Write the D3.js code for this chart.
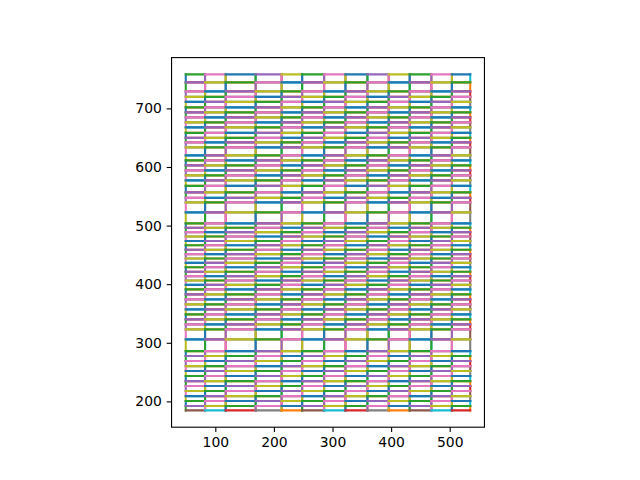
<!DOCTYPE html>
<html><head><meta charset="utf-8">
<script src="https://cdn.jsdelivr.net/npm/d3@7"></script>
<style>body{margin:0;background:#fff}svg{display:block}</style>
</head><body>
<script>
// Column boundaries (x, PDF points)
const colEdges = [49.6, 82.5, 117.7, 168.8, 213.1, 248.2, 285.7, 322.1, 359.6, 395.9, 431.7, 468.7, 503.7, 535];
// Row boundaries (y, PDF points), top to bottom
const rowEdges = [758, 744.4, 729, 719.6, 711.1, 701.7, 693.2, 684.6, 676.1, 667.6, 658.2, 649.7, 642, 633.4,
  619.8, 611.3, 602.7, 594.2, 585.7, 577.1, 567.7, 556.7, 547.3, 539.6, 522.5, 503.8, 496.3, 488.8, 481.3,
  473.8, 466.3, 458.8, 451.3, 443.8, 436.3, 428.8, 421.3, 413.8, 406.3, 398.8, 391.1, 382.6, 374.1, 365.5,
  357, 348.5, 339.9, 331.4, 322.9, 305.8, 285.8, 277.3, 268.8, 260.2, 251.7, 243.2, 234.6, 226.1, 217.6,
  209, 200.5, 192, 184.6];
const xTicks = [100, 200, 300, 400, 500];
const yTicks = [200, 300, 400, 500, 600, 700];
const palette = ["#1f77b4","#ff7f0e","#2ca02c","#d62728","#9467bd","#8c564b","#e377c2","#7f7f7f","#bcbd22","#17becf"];

const W = 640, H = 480;
const axL = 80, axW = 496, axT = 57.6, axH = 369.6;
const xmin0 = d3.min(colEdges), xmax0 = d3.max(colEdges);
const ymin0 = d3.min(rowEdges), ymax0 = d3.max(rowEdges);
const mx = (xmax0 - xmin0) * 0.05, my = (ymax0 - ymin0) * 0.05;
const xd = [xmin0 - mx, xmax0 + mx], yd = [ymin0 - my, ymax0 + my];
const k = Math.min(axW / (xd[1] - xd[0]), axH / (yd[1] - yd[0]));
const bw = (xd[1] - xd[0]) * k, bh = (yd[1] - yd[0]) * k;
const bx = axL + (axW - bw) / 2, by = axT + (axH - bh) / 2;

const x = d3.scaleLinear().domain(xd).range([bx, bx + bw]);
const y = d3.scaleLinear().domain(yd).range([by + bh, by]);

const svg = d3.select("body").append("svg").attr("width", W).attr("height", H);

// build segments in camelot plot_grid order
const segs = [];
let ci = 0;
for (let r = 0; r < rowEdges.length - 1; r++) {
  const yt = rowEdges[r], yb = rowEdges[r + 1];
  for (let c = 0; c < colEdges.length - 1; c++) {
    const xl = colEdges[c], xr = colEdges[c + 1];
    segs.push({x1: xl, y1: yb, x2: xl, y2: yt, col: palette[ci++ % 10]});
    segs.push({x1: xr, y1: yb, x2: xr, y2: yt, col: palette[ci++ % 10]});
    segs.push({x1: xl, y1: yt, x2: xr, y2: yt, col: palette[ci++ % 10]});
    segs.push({x1: xl, y1: yb, x2: xr, y2: yb, col: palette[ci++ % 10]});
  }
}
const clipId = "axclip";
svg.append("clipPath").attr("id", clipId).append("rect")
  .attr("x", bx).attr("y", by).attr("width", bw).attr("height", bh);
svg.append("g").attr("clip-path", `url(#${clipId})`)
  .selectAll("line").data(segs).join("line")
  .attr("x1", d => x(d.x1)).attr("y1", d => y(d.y1))
  .attr("x2", d => x(d.x2)).attr("y2", d => y(d.y2))
  .attr("stroke", d => d.col).attr("stroke-width", 2.08)
  .attr("stroke-linecap", "square");

const font = "DejaVu Sans, sans-serif";
const gx = svg.append("g").attr("transform", `translate(0,${by + bh})`)
  .call(d3.axisBottom(x).tickValues(xTicks).tickSize(4.86).tickPadding(4.86).tickFormat(d3.format("d")));
const gy = svg.append("g").attr("transform", `translate(${bx},0)`)
  .call(d3.axisLeft(y).tickValues(yTicks).tickSize(4.86).tickPadding(4.86).tickFormat(d3.format("d")));
[gx, gy].forEach(g => {
  g.select(".domain").remove();
  g.selectAll(".tick line").attr("stroke", "#000").attr("stroke-width", 1.1);
  g.selectAll(".tick text").attr("fill", "#000").style("font-family", font).style("font-size", "13.9px");
});
svg.append("rect").attr("x", bx).attr("y", by).attr("width", bw).attr("height", bh)
  .attr("fill", "none").attr("stroke", "#000").attr("stroke-width", 1.1);
</script>
</body></html>
